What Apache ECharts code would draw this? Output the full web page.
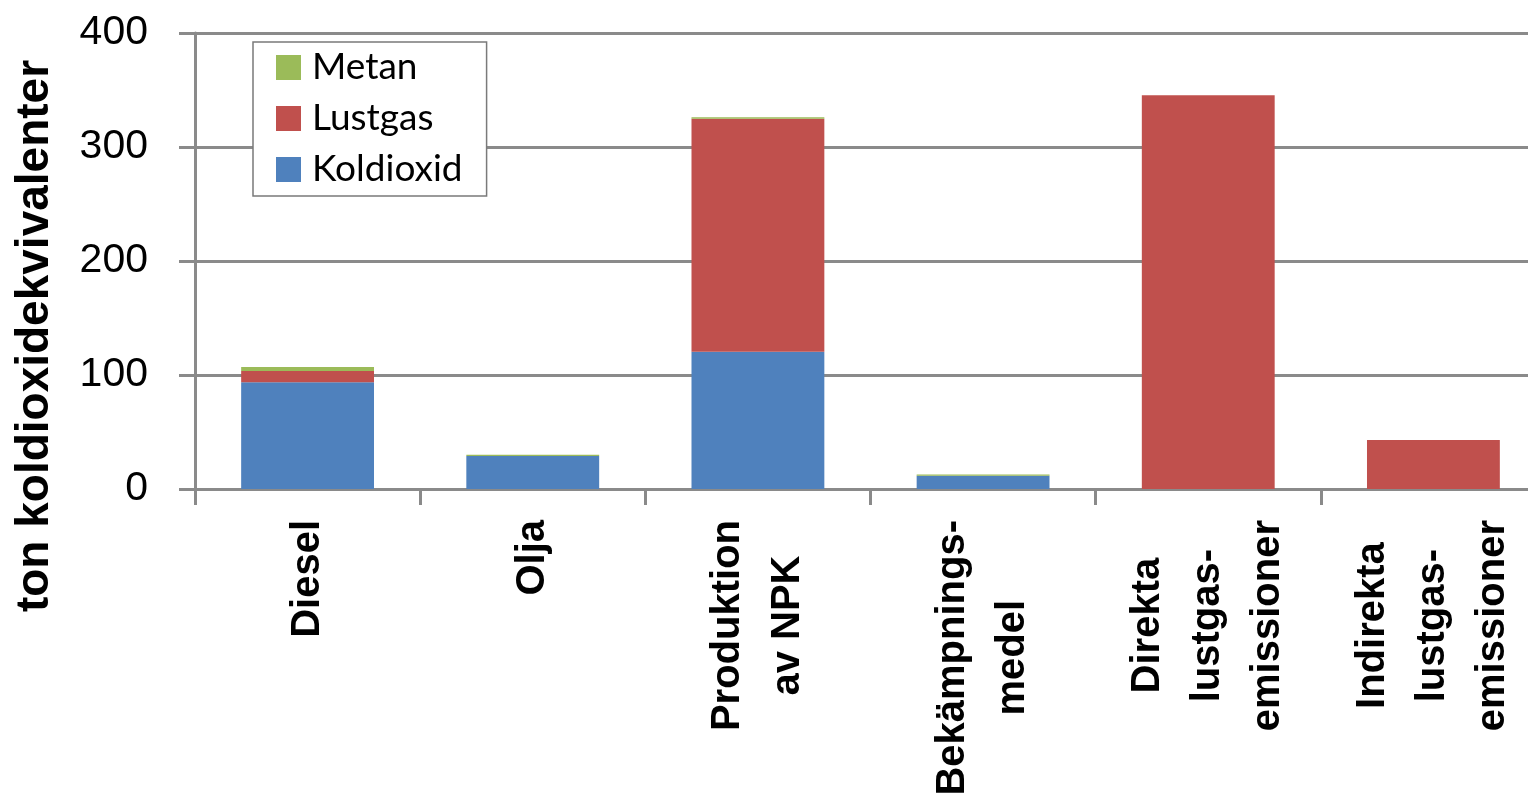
<!DOCTYPE html>
<html>
<head>
<meta charset="utf-8">
<script src="https://cdn.jsdelivr.net/npm/echarts@6/dist/echarts.min.js"></script>
<style>
  html, body { margin: 0; padding: 0; background: #ffffff; }
  #chart { width: 1528px; height: 793px; }
</style>
</head>
<body>
<div id="chart"></div>
<script>
// Emission sources (rows broken where the label wraps)
const categories = [
  'Diesel',
  'Olja',
  'Produktion\nav NPK',
  'Bekämpnings-\nmedel',
  'Direkta\nlustgas-\nemissioner',
  'Indirekta\nlustgas-\nemissioner'
];

// ton koldioxidekvivalenter per gas
const koldioxid = [93.6, 28.9, 120.4, 11.7, 0, 0];
const lustgas   = [9.9, 0, 204.4, 0, 345.3, 42.9];
const metan     = [3.5, 1.1, 1.2, 1.0, 0, 0];

const yTicks = { min: 0, max: 400, interval: 100 };

const axisGray = '#8a8a8a';
const colors = { koldioxid: '#4f81bd', lustgas: '#c0504d', metan: '#9bbb59' };

const chart = echarts.init(document.getElementById('chart'), null, { renderer: 'canvas' });

function barSeries(name, data, color) {
  return {
    name: name,
    type: 'bar',
    stack: 'total',
    data: data,
    barWidth: '59%',
    itemStyle: { color: color },
    emphasis: { disabled: true }
  };
}

chart.setOption({
  animation: false,
  backgroundColor: '#ffffff',
  grid: {
    left: 195, top: 33, bottom: 304, right: -18,
    containLabel: false,
    outerBoundsMode: 'none'
  },
  legend: {
    orient: 'vertical',
    left: 253,
    top: 42,
    data: ['Metan', 'Lustgas', 'Koldioxid'],
    icon: 'rect',
    itemWidth: 25,
    itemHeight: 25,
    itemGap: 14,
    padding: [7, 24, 8, 23],
    backgroundColor: '#ffffff',
    borderColor: '#7a7a7a',
    borderWidth: 1.5,
    borderRadius: 0,
    textStyle: {
      fontFamily: 'Lato',
      fontSize: 37,
      lineHeight: 36,
      color: '#000000',
      padding: [0, 0, 0, 6]
    }
  },
  xAxis: {
    type: 'category',
    data: categories,
    boundaryGap: true,
    axisLine: { show: true, lineStyle: { color: axisGray, width: 3 } },
    axisTick: { show: true, alignWithLabel: false, length: 16, lineStyle: { color: axisGray, width: 3 } },
    axisLabel: {
      interval: 0,
      rotate: 90,
      margin: 31,
      formatter: function (v) {
        return v.split('\n').map(function (s) { return '{c|' + s + '}'; }).join('\n');
      },
      rich: {
        c: {
          align: 'center',
          fontFamily: 'Liberation Sans',
          fontWeight: 'bold',
          fontSize: 40,
          lineHeight: 60,
          color: '#000000'
        }
      }
    }
  },
  yAxis: {
    type: 'value',
    min: yTicks.min,
    max: yTicks.max,
    interval: yTicks.interval,
    name: 'ton koldioxidekvivalenter',
    nameLocation: 'middle',
    nameRotate: 90,
    nameGap: 137,
    nameTextStyle: {
      fontFamily: 'Liberation Sans',
      fontWeight: 'bold',
      fontSize: 46,
      color: '#000000',
      padding: [0, 150, 0, 0]
    },
    axisLine: { show: true, lineStyle: { color: axisGray, width: 3 } },
    axisTick: { show: true, length: 16, lineStyle: { color: axisGray, width: 3 } },
    splitLine: { show: true, lineStyle: { color: axisGray, width: 3 } },
    axisLabel: {
      margin: 47,
      fontFamily: 'Liberation Sans',
      fontSize: 41,
      color: '#000000'
    }
  },
  series: [
    barSeries('Koldioxid', koldioxid, colors.koldioxid),
    barSeries('Lustgas', lustgas, colors.lustgas),
    barSeries('Metan', metan, colors.metan)
  ]
});
</script>
</body>
</html>
